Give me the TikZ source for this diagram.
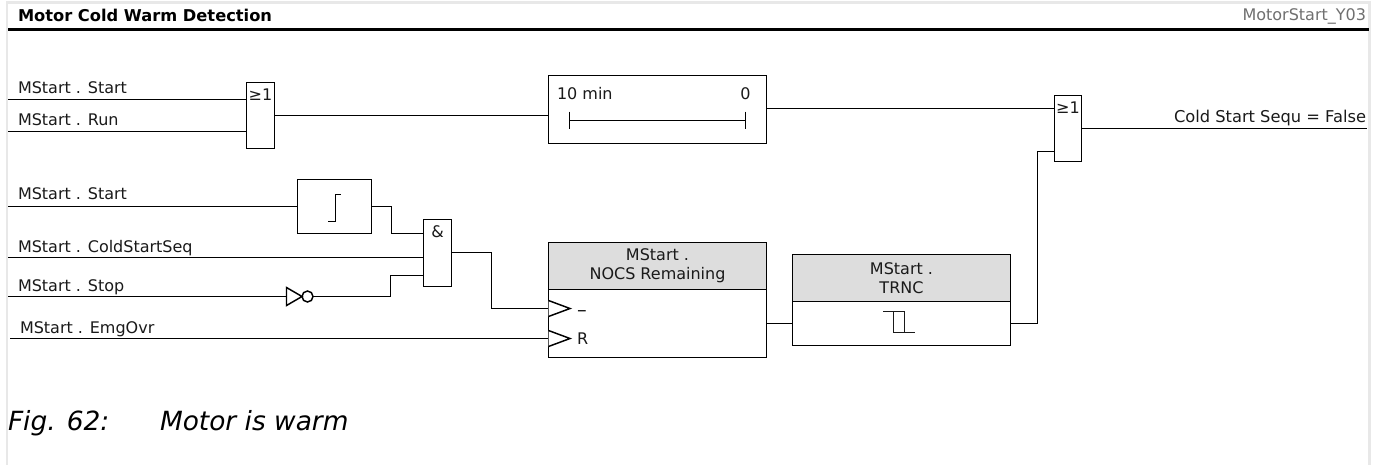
\documentclass[tikz,border=0pt]{standalone}
\usepackage{fontspec}
\setmainfont{DejaVu Sans}
\definecolor{hdr}{HTML}{DDDDDD}
\definecolor{frm}{HTML}{E8E8E8}
\definecolor{ink}{HTML}{1A1A1A}
\definecolor{tagc}{HTML}{707070}
\tikzset{
  blk/.style={draw=black,line width=1.1pt,fill=white,rectangle,inner sep=0pt,outer sep=0pt},
  head/.style={blk,fill=hdr,align=center,font=\fontsize{12pt}{14pt}\selectfont,text=ink},
  wire/.style={draw=black,line width=1.1pt,line join=miter},
  lab/.style={anchor=base west,inner sep=0pt,outer sep=0pt,font=\fontsize{12pt}{14pt}\selectfont,text=ink},
  labr/.style={lab,anchor=base east},
  gatetxt/.style={anchor=base,inner sep=0pt,outer sep=0pt,font=\fontsize{12pt}{14pt}\selectfont,text=ink},
  thinw/.style={draw=ink,line width=0.8pt}
}
\begin{document}
\begin{tikzpicture}[x=0.75pt,y=-0.75pt]
\useasboundingbox (0,0) rectangle (1381,465);
\fill[white] (0,0) rectangle (1381,465);
% frame
\draw[frm,line width=2pt] (7,465) -- (7,2.5) -- (1369.5,2.5) -- (1369.5,465);
\draw[black,line width=2pt] (8,29.5) -- (1369,29.5);
\node[lab,font=\fontsize{12.2pt}{14pt}\selectfont\bfseries,text=black] (title) at (18,21) {Motor Cold Warm Detection};
\node[labr,font=\fontsize{12pt}{14pt}\selectfont,text=tagc] (tag) at (1366,20) {MotorStart\_Y03};
% input coordinates
\coordinate (i1) at (8,99.5);
\coordinate (i2) at (8,131.5);
\coordinate (i3) at (8,206.5);
\coordinate (i4) at (8,257.5);
\coordinate (i5) at (8,296.5);
\coordinate (i6) at (10,338.5);
\coordinate (o1) at (1367,128.5);
% blocks
\node[blk,minimum width=21pt,minimum height=49.5pt] (or1) at (260.5,115.5) {};
\node[blk,minimum width=163.5pt,minimum height=51pt] (tim) at (657.5,109.5) {};
\node[blk,minimum width=20.25pt,minimum height=49.5pt] (or2) at (1068,128.5) {};
\node[blk,minimum width=55.5pt,minimum height=40.5pt] (edge) at (334.5,206.5) {};
\node[blk,minimum width=21pt,minimum height=50.25pt] (and) at (437.5,253) {};
\node[blk,minimum width=163.5pt,minimum height=51pt] (nocs) at (657.5,323.5) {};
\node[head,minimum width=163.5pt,minimum height=35.25pt] (nocsh) at (657.5,266) {MStart .\\NOCS Remaining};
\node[blk,minimum width=163.5pt,minimum height=33pt] (trnc) at (901.5,323.5) {};
\node[head,minimum width=163.5pt,minimum height=35.25pt] (trnch) at (901.5,278) {MStart .\\TRNC};
% inverter
\coordinate (invw) at (286.5,296.5);
\node[circle,draw=black,line width=1.1pt,minimum size=8.25pt,inner sep=0pt,outer sep=0pt,fill=white] (bub) at (307.5,296.5) {};
\draw[wire,fill=white] (286.5,287.5) -- (302,296.5) -- (286.5,305.5) -- cycle;
% wires
\draw[wire] (i1) -- (i1 -| or1.west);
\draw[wire] (i2) -- (i2 -| or1.west);
\draw[wire] (or1.east) -- (or1.east -| tim.west);
\draw[wire] (tim.east |- 0,108.5) -- (or2.west |- 0,108.5);
\draw[wire] (or2.east) -- (o1);
\draw[wire] (i3) -- (i3 -| edge.west);
\draw[wire] (edge.east |- i3) -- (391.5,206.5) -- (391.5,233.5) -- (and.west |- 0,233.5);
\draw[wire] (i4) -- (i4 -| and.west);
\draw[wire] (i5) -- (invw);
\draw[wire] (bub.east) -- (390.5,296.5) -- (390.5,275.5) -- (and.west |- 0,275.5);
\draw[wire] (and.east |- 0,252.5) -- (491.5,252.5) -- (491.5,308.5) -- (nocs.west |- 0,308.5);
\draw[wire] (i6) -- (i6 -| nocs.west);
\draw[wire] (nocs.east) -- (trnc.west);
\draw[wire] (trnc.east) -- (1037.5,323.5) -- (1037.5,151.5) -- (or2.west |- 0,151.5);
% input triangles
\draw[wire,fill=white] (548.5,300.5) -- (570,308.5) -- (548.5,316.5);
\draw[wire,fill=white] (548.5,330.5) -- (570,338.5) -- (548.5,346.5);
% timer symbol
\draw[wire] (569.5,120.5) -- (745.5,120.5);
\draw[wire] (569.5,111.5) -- (569.5,129);
\draw[wire] (745.5,111.5) -- (745.5,129);
% edge symbol
\draw[wire] (328,221.5) -- (335.5,221.5) -- (335.5,194.5) -- (341,194.5);
% pulse symbol
\draw[thinw] (883,311.5) -- (893.5,311.5) -- (893.5,332.5) -- (914.5,332.5);
\draw[thinw] (893.5,311.5) -- (904.5,311.5) -- (904.5,332.5);
% labels
\node[lab] (l1) at (18,93) {MStart . Start};
\node[lab] (l2) at (18,125) {MStart . Run};
\node[lab] (l3) at (18,199) {MStart . Start};
\node[lab] (l4) at (18,252) {MStart . ColdStartSeq};
\node[lab] (l5) at (18,291) {MStart . Stop};
\node[lab] (l6) at (20,333.5) {MStart . EmgOvr};
\node[labr,font=\fontsize{12.2pt}{14pt}\selectfont] (lo) at (1366,122) {Cold Start Sequ = False};
\node[gatetxt] (g1) at (260.5,100) {≥1};
\node[gatetxt] (g2) at (1068,113) {≥1};
\node[gatetxt] (g3) at (437.5,237) {\&};
\node[lab] (t1) at (557,99) {10 min};
\node[labr] (t2) at (750.5,99) {0};
\node[lab,font=\fontsize{14.5pt}{14pt}\selectfont] (p1) at (577,316) {–};
\node[lab] (p2) at (577,344.5) {R};
% caption
\node[lab,font=\fontsize{19.8pt}{22pt}\selectfont\itshape,text=black] (c1) at (8,430) {Fig. 62:};
\node[lab,font=\fontsize{19.8pt}{22pt}\selectfont\itshape,text=black] (c2) at (160,430) {Motor is warm};
\end{tikzpicture}
\end{document}
